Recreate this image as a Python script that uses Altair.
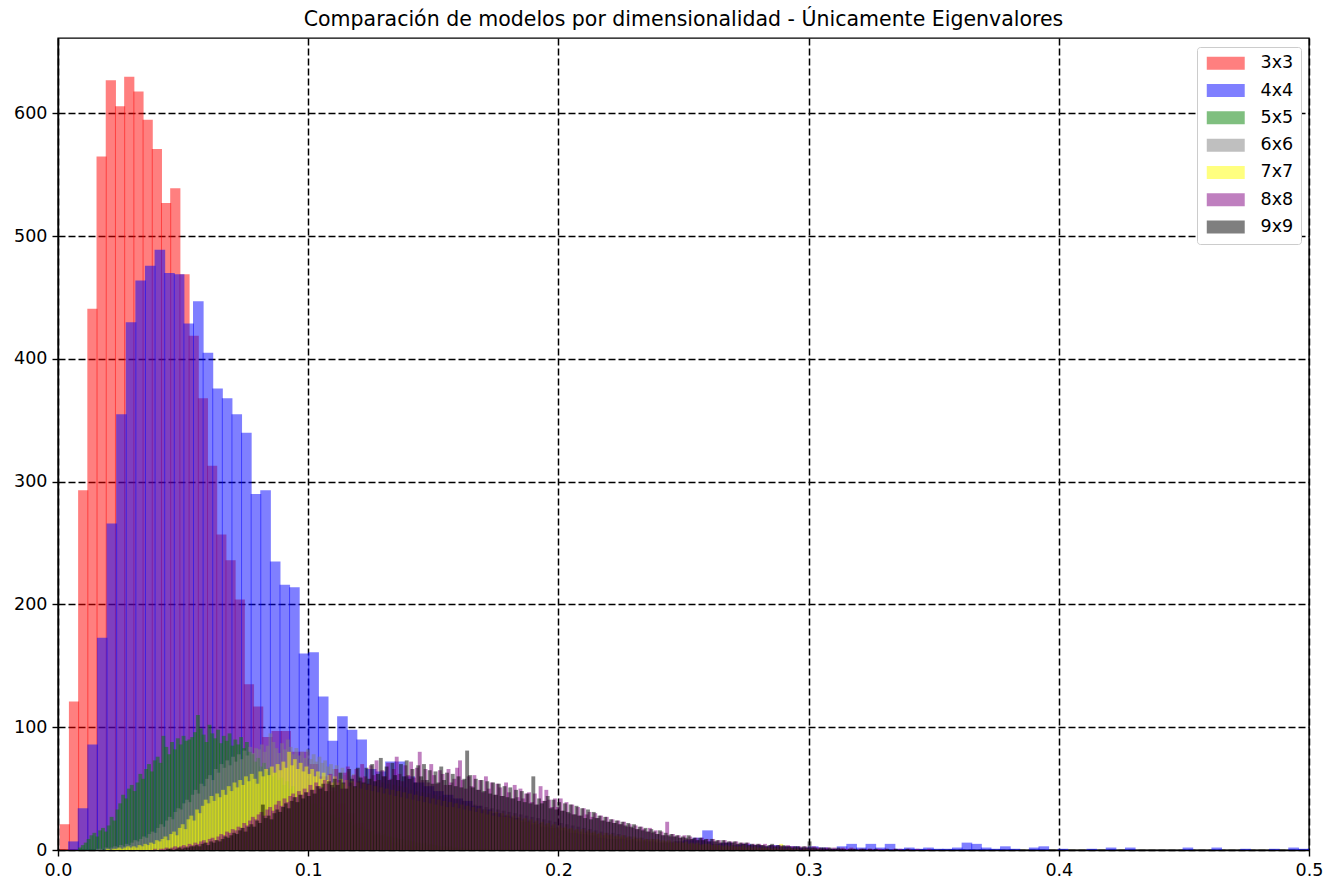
import altair as alt
import pandas as pd

# ---------------- data (counts) ----------------
series_names = ["3x3", "4x4", "5x5", "6x6", "7x7", "8x8", "9x9"]
series_colors = ["#ff0000", "#0000ff", "#008000", "#808080", "#ffff00", "#800080", "#000000"]

# 3x3: wide bins
c3_start, c3_width = 0.00068, 0.00368
c3_counts = [21, 121, 293, 441, 565, 627, 606, 630, 618, 595,
             571, 527, 539, 469, 419, 368, 313, 257, 236, 204,
             135, 117, 92, 97, 97, 80, 80, 70, 60, 48,
             38, 30, 22, 16, 12, 8, 6, 4, 3, 2, 1, 1]

# 4x4: wide bins
c4_start, c4_width = 0.00404, 0.00384
c4_counts = [7, 34, 86, 173, 266, 355, 430, 464, 476, 489,
             470, 469, 429, 447, 405, 376, 368, 355, 340, 290,
             293, 235, 216, 214, 160, 161, 125, 89, 109, 98,
             90, 66, 64, 72, 72, 60, 55, 52, 48, 45,
             42, 40, 36, 33, 30, 28, 26, 23, 21, 19,
             18, 16, 14, 13, 12, 10, 9, 9, 8, 7,
             7, 6, 6, 7, 8, 10, 16, 5, 6, 4,
             5, 4, 3, 4, 3, 3, 2, 3, 2, 1,
             3, 5, 2, 5, 2, 5, 1, 2, 1, 2,
             1, 1, 2, 6, 5, 2, 1, 3, 1, 0,
             2, 3, 0, 1, 0, 0, 1, 0, 2, 0,
             2, 0, 0, 0, 0, 0, 2, 0, 0, 2,
             0, 0, 1, 0, 0, 1, 0, 2, 1, 1]

# 5x5 .. 9x9: narrow bins
fine_width = 0.00115

c5_start = 0.008
c5_counts = [2, 4, 6, 9, 12, 14, 11, 16, 18, 15,
             20, 27, 24, 33, 38, 45, 42, 50, 53, 48,
             55, 62, 58, 66, 70, 64, 73, 76, 71, 93,
             84, 78, 88, 82, 91, 86, 93, 89, 90, 92,
             96, 110, 99, 94, 88, 102, 95, 91, 98, 87,
             93, 89, 95, 85, 90, 86, 92, 83, 88, 80,
             78, 72, 75, 68, 71, 64, 67, 60, 63, 57,
             59, 53, 56, 50, 52, 46, 48, 43, 45, 40,
             41, 37, 38, 34, 35, 31, 32, 28, 29, 26,
             27, 24, 25, 22, 23, 20, 21, 18, 19, 16,
             17, 15, 16, 13, 14, 12, 13, 11, 11, 10,
             10, 9, 9, 8, 8, 7, 7, 6, 6, 5,
             6, 4, 5, 4, 4, 3, 3, 3, 2, 3,
             2, 2, 1, 2, 1, 1, 1, 0, 1, 1,
             0, 1, 0, 0, 1, 0, 0, 0, 0, 1]

c6_start = 0.014
c6_counts = [0, 1, 1, 0, 2, 1, 2, 3, 2, 4,
             3, 5, 4, 6, 8, 7, 9, 11, 10, 13,
             15, 14, 18, 21, 19, 24, 27, 25, 31, 34,
             33, 38, 41, 39, 45, 49, 46, 54, 52, 58,
             61, 57, 66, 63, 70, 67, 73, 69, 76, 72,
             78, 74, 81, 77, 84, 79, 83, 82, 86, 80,
             85, 95, 88, 83, 79, 87, 82, 90, 84, 78,
             83, 77, 80, 75, 82, 74, 78, 72, 76, 71,
             73, 68, 70, 66, 69, 63, 67, 61, 64, 60,
             62, 57, 60, 56, 59, 54, 58, 53, 57, 52,
             55, 50, 54, 49, 53, 48, 52, 47, 51, 46,
             49, 45, 48, 44, 47, 43, 46, 42, 45, 41,
             44, 40, 43, 39, 42, 38, 41, 37, 40, 36,
             38, 35, 37, 33, 36, 32, 35, 31, 34, 30,
             33, 29, 32, 28, 31, 27, 30, 26, 29, 25,
             28, 24, 27, 23, 26, 22, 25, 21, 24, 20,
             23, 19, 22, 18, 21, 17, 20, 16, 19, 15,
             18, 15, 17, 14, 16, 13, 15, 12, 14, 12,
             14, 11, 13, 10, 12, 10, 11, 9, 10, 8,
             10, 8, 9, 7, 9, 7, 8, 6, 7, 6,
             7, 6, 7, 5, 6, 5, 5, 4, 5, 4,
             5, 4, 4, 3, 4, 3, 3, 3, 3, 2,
             3, 2, 3, 2, 2, 2, 1, 2, 1, 1,
             1, 1, 2, 1, 0, 1, 1, 0, 1, 0]

c7_start = 0.018
c7_counts = [0, 1, 0, 1, 1, 2, 1, 2, 3, 2,
             3, 2, 4, 3, 5, 4, 6, 5, 8, 7,
             9, 11, 8, 13, 15, 12, 18, 21, 17, 25,
             28, 24, 33, 30, 36, 41, 38, 44, 40, 46,
             43, 49, 45, 52, 48, 55, 51, 57, 53, 60,
             56, 62, 58, 54, 64, 60, 66, 61, 68, 63,
             70, 65, 72, 67, 80, 69, 74, 66, 71, 64,
             68, 62, 66, 60, 64, 58, 63, 57, 61, 55,
             60, 55, 58, 54, 57, 52, 56, 51, 55, 50,
             54, 49, 53, 48, 52, 47, 51, 46, 50, 45,
             49, 44, 48, 43, 47, 42, 46, 41, 45, 40,
             44, 39, 43, 38, 42, 37, 41, 36, 40, 35,
             39, 35, 38, 34, 37, 33, 36, 32, 35, 31,
             34, 30, 33, 29, 32, 28, 31, 27, 30, 27,
             29, 26, 28, 25, 27, 24, 26, 23, 25, 22,
             24, 21, 23, 20, 22, 19, 21, 18, 20, 18,
             19, 17, 18, 16, 17, 15, 17, 14, 16, 14,
             15, 13, 14, 12, 14, 12, 13, 11, 12, 11,
             12, 10, 11, 9, 11, 9, 10, 8, 9, 8,
             9, 8, 9, 7, 8, 7, 8, 6, 7, 6,
             7, 6, 7, 5, 6, 5, 6, 4, 5, 5,
             5, 4, 5, 4, 4, 3, 4, 3, 4, 3,
             3, 3, 4, 2, 3, 2, 3, 2, 2, 2,
             2, 2, 1, 2, 1, 5, 1, 1, 2, 1,
             1, 1, 0, 1, 1, 0, 1, 0, 1, 0]

c8_start = 0.038
c8_counts = [1, 0, 1, 1, 2, 1, 2, 3, 2, 3,
             4, 3, 5, 4, 6, 5, 7, 8, 6, 9,
             10, 8, 11, 13, 12, 15, 14, 17, 16, 19,
             18, 22, 20, 24, 27, 25, 29, 31, 28, 33,
             35, 32, 37, 40, 36, 42, 39, 44, 46, 43,
             48, 45, 50, 47, 53, 49, 55, 52, 51, 57,
             54, 62, 51, 66, 57, 50, 63, 68, 55, 61,
             66, 56, 70, 60, 54, 69, 61, 73, 57, 65,
             60, 71, 58, 66, 76, 62, 56, 69, 61, 72,
             59, 67, 80, 57, 66, 55, 70, 61, 54, 65,
             62, 53, 66, 55, 58, 67, 73, 57, 50, 60,
             52, 61, 49, 57, 47, 60, 50, 55, 45, 54,
             51, 44, 55, 47, 42, 53, 43, 50, 42, 46,
             47, 39, 46, 37, 52, 40, 49, 41, 35, 42,
             35, 42, 32, 39, 30, 37, 29, 35, 28, 34,
             29, 31, 27, 30, 26, 28, 24, 27, 23, 25,
             22, 24, 21, 23, 19, 21, 18, 20, 17, 19,
             17, 15, 18, 14, 16, 13, 15, 12, 23, 11,
             13, 11, 12, 10, 12, 9, 11, 9, 10, 8,
             10, 8, 9, 7, 9, 7, 8, 6, 8, 6,
             7, 6, 7, 5, 6, 5, 6, 4, 5, 4,
             5, 4, 5, 3, 4, 4, 3, 4, 3, 3,
             4, 3, 3, 2, 3, 2, 3, 2, 2, 3,
             2, 2, 1, 2, 2, 1, 2, 1, 1, 2,
             1, 1, 2, 1, 0, 1, 1, 0, 1, 1,
             0, 1, 1, 0, 1, 0, 0, 1, 0, 1,
             0, 0, 1, 0, 0, 1, 0, 0, 0, 1]

c9_start = 0.042
c9_counts = [0, 1, 1, 0, 1, 2, 1, 2, 2, 3,
             3, 4, 3, 5, 6, 4, 7, 6, 8, 7,
             9, 11, 10, 12, 14, 13, 16, 18, 15, 19,
             21, 19, 24, 22, 37, 26, 28, 25, 30, 33,
             31, 35, 38, 34, 40, 43, 39, 45, 42, 47,
             44, 49, 46, 52, 50, 54, 48, 56, 53, 58,
             53, 63, 55, 50, 66, 58, 52, 67, 59, 55,
             67, 58, 70, 56, 62, 75, 60, 68, 57, 71,
             61, 57, 70, 60, 73, 58, 66, 55, 69, 60,
             70, 57, 65, 54, 64, 55, 68, 57, 63, 53,
             62, 52, 60, 51, 58, 81, 61, 51, 58, 49,
             57, 48, 56, 46, 55, 45, 54, 44, 52, 43,
             51, 42, 49, 40, 48, 39, 46, 38, 60, 37,
             42, 38, 40, 44, 34, 41, 33, 39, 32, 38,
             31, 37, 29, 36, 28, 34, 26, 33, 25, 31,
             26, 28, 24, 27, 23, 25, 22, 24, 21, 23,
             20, 22, 19, 21, 17, 19, 16, 18, 15, 17,
             15, 13, 16, 12, 14, 12, 13, 11, 12, 10,
             11, 10, 12, 9, 10, 8, 10, 8, 9, 7,
             9, 7, 8, 6, 8, 6, 7, 6, 7, 5,
             6, 5, 6, 4, 5, 4, 5, 4, 4, 3,
             4, 5, 3, 4, 3, 4, 3, 3, 2, 3,
             3, 2, 3, 2, 7, 2, 2, 1, 2, 2,
             1, 2, 1, 1, 2, 1, 1, 0, 1, 1,
             1, 0, 1, 1, 0, 1, 0, 1, 0, 0,
             0, 1, 0, 0, 1, 0, 0, 0, 1, 0]

x_ticks = [0.0, 0.1, 0.2, 0.3, 0.4, 0.5]
y_ticks = [0, 100, 200, 300, 400, 500, 600]

# ---------------- build table ----------------
# neighbouring bars overlap by about one pixel, as the pixel-snapped bars of the reference do
seam = 0.0004
specs = [
    ("3x3", c3_start, c3_width, c3_counts),
    ("4x4", c4_start, c4_width, c4_counts),
    ("5x5", c5_start, fine_width, c5_counts),
    ("6x6", c6_start, fine_width, c6_counts),
    ("7x7", c7_start, fine_width, c7_counts),
    ("8x8", c8_start, fine_width, c8_counts),
    ("9x9", c9_start, fine_width, c9_counts),
]
rows = []
for name, start, w, counts in specs:
    for i, c in enumerate(counts):
        if c <= 0:
            continue
        x0 = start + i * w
        if x0 >= 0.5:
            continue
        x1 = min(x0 + w + seam, 0.5)
        rows.append({"serie": name, "x0": x0, "x1": x1, "base": 0, "n": c})
df = pd.DataFrame(rows)

FONT = "DejaVu Sans"

bars = alt.Chart(df).mark_bar(opacity=0.5, strokeWidth=0).encode(
    x=alt.X("x0:Q", scale=alt.Scale(domain=[0, 0.5], nice=False, zero=False),
            axis=alt.Axis(values=x_ticks, format=".1f", title=None, labelFlush=False)),
    x2="x1:Q",
    y=alt.Y("n:Q", stack=None, scale=alt.Scale(domain=[0, 661.5], nice=False),
            axis=alt.Axis(values=y_ticks, format="d", title=None, labelFlush=False)),
    y2="base:Q",
    color=alt.Color(
        "serie:N",
        scale=alt.Scale(domain=series_names, range=series_colors),
        legend=alt.Legend(
            title=None, orient="none", legendX=1139, legendY=9,
            symbolType="M-2.92,-1H2.92V1H-2.92Z", symbolSize=169,
            symbolOpacity=0.5, symbolStrokeWidth=0, symbolOffset=12.5,
            labelFontSize=17.5, labelFont=FONT, labelColor="black", labelOffset=26,
            fillColor="white", strokeColor="#cccccc", cornerRadius=3,
            padding=7.5, rowPadding=8.3,
        ),
    ),
)

chart = bars.properties(
    width=1251, height=812,
    background="white",
    title=alt.TitleParams(
        "Comparación de modelos por dimensionalidad - Únicamente Eigenvalores",
        font=FONT, fontSize=20.5, fontWeight="normal", color="black", offset=8,
    ),
    autosize=alt.AutoSizeParams(type="none"),
    padding={"left": 58, "top": 38, "right": 20, "bottom": 36},
).configure_axis(
    grid=True, gridColor="black", gridDash=[7, 3], gridWidth=1.5, gridOpacity=1,
    domainColor="black", domainWidth=1.4, tickColor="black", tickSize=6, tickWidth=1.4,
    labelFont=FONT, labelFontSize=17.5, labelColor="black", labelPadding=5, zindex=1,
).configure_view(
    stroke="black", strokeWidth=1.4,
)

chart.save("out.html", embed_options={"renderer": "svg", "actions": False})
